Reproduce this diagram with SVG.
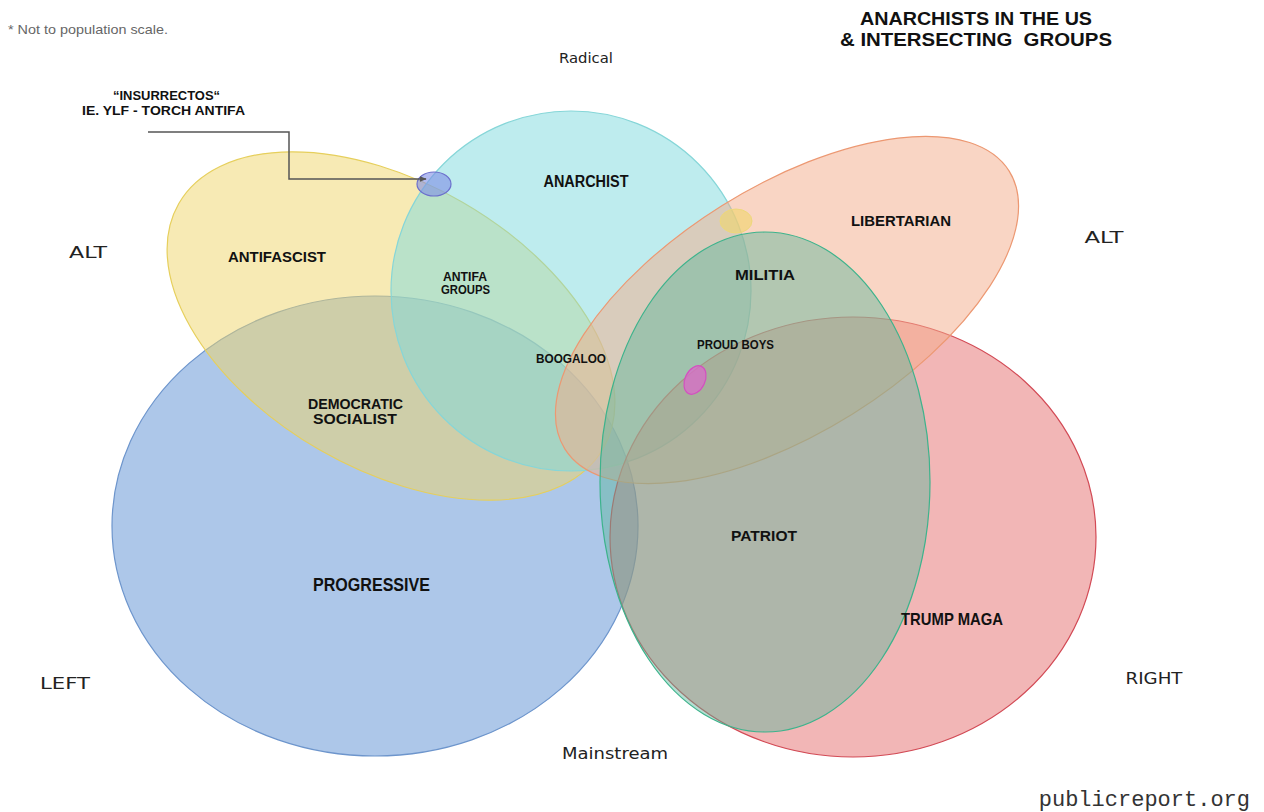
<svg xmlns="http://www.w3.org/2000/svg" width="1264" height="812" viewBox="0 0 1264 812">
<defs>
<style>
.set{stroke-width:1.2}
.lbl{font-family:"Liberation Sans","DejaVu Sans",sans-serif;font-weight:bold;fill:#111;text-anchor:middle}
.axis{font-family:"DejaVu Sans","Liberation Sans",sans-serif;fill:#222;text-anchor:middle}
</style>
<marker id="arr" viewBox="0 0 10 10" refX="9" refY="5" markerWidth="7" markerHeight="7" orient="auto" markerUnits="userSpaceOnUse">
<path d="M0,1 L10,5 L0,9 z" fill="#555"/>
</marker>
</defs>
<rect width="1264" height="812" fill="#fff"/>
<g id="progressive"><ellipse class="set" cx="375" cy="526" rx="263" ry="230" fill="#5b8fd4" fill-opacity="0.5" stroke="#6d95cc"/></g>
<g id="antifascist"><ellipse class="set" cx="391" cy="326" rx="245" ry="143" transform="rotate(30 391 326)" fill="#f0d66a" fill-opacity="0.5" stroke="#e6cf5c"/></g>
<g id="anarchist"><circle class="set" cx="571" cy="291" r="180" fill="#7dd9dd" fill-opacity="0.5" stroke="#86d6d8"/></g>
<g id="trump-maga"><ellipse class="set" cx="853" cy="537" rx="243" ry="220" fill="#e56d6d" fill-opacity="0.5" stroke="#d24a55"/></g>
<g id="libertarian"><ellipse class="set" cx="787" cy="310" rx="262" ry="123" transform="rotate(-32 787 310)" fill="#f4ac8a" fill-opacity="0.5" stroke="#ec9872"/></g>
<g id="patriot"><ellipse class="set" cx="765" cy="482" rx="165" ry="250" fill="#5cb59b" fill-opacity="0.45" stroke="#3db38c"/></g>
<g id="insurrectos-dot"><ellipse cx="434" cy="184" rx="17" ry="12" fill="#7f8ee6" fill-opacity="0.6" stroke="#6c70cc" stroke-width="1.2"/></g>
<g id="yellow-dot"><ellipse cx="736" cy="221" rx="16" ry="12" fill="#f0d66a" fill-opacity="0.6" stroke="#eed87a" stroke-width="1"/></g>
<g id="magenta-dot"><ellipse cx="695" cy="380" rx="10" ry="15" transform="rotate(25 695 380)" fill="#d96bc9" fill-opacity="0.75" stroke="#d44fc0" stroke-width="1.2"/></g>
<g id="connectors">
<polyline points="148,132 289,132 289,179 426,179" fill="none" stroke="#555" stroke-width="1.5" marker-end="url(#arr)"/>
</g>
<g id="labels">
<text class="lbl" x="586" y="187" font-size="16" textLength="85" lengthAdjust="spacingAndGlyphs">ANARCHIST</text>
<text class="lbl" x="277" y="262" font-size="15" textLength="98" lengthAdjust="spacingAndGlyphs">ANTIFASCIST</text>
<text class="lbl" x="901" y="226" font-size="15" textLength="100" lengthAdjust="spacingAndGlyphs">LIBERTARIAN</text>
<text class="lbl" x="765" y="280" font-size="14" textLength="60" lengthAdjust="spacingAndGlyphs">MILITIA</text>
<text class="lbl" x="465" y="281" font-size="12" textLength="44" lengthAdjust="spacingAndGlyphs">ANTIFA</text>
<text class="lbl" x="465.5" y="294" font-size="12.5" textLength="49" lengthAdjust="spacingAndGlyphs">GROUPS</text>
<text class="lbl" x="571" y="363" font-size="13.5" textLength="70" lengthAdjust="spacingAndGlyphs">BOOGALOO</text>
<text class="lbl" x="735.5" y="349" font-size="12.5" textLength="77" lengthAdjust="spacingAndGlyphs">PROUD BOYS</text>
<text class="lbl" x="355.5" y="409" font-size="15" textLength="95" lengthAdjust="spacingAndGlyphs">DEMOCRATIC</text>
<text class="lbl" x="355" y="424" font-size="15" textLength="84" lengthAdjust="spacingAndGlyphs">SOCIALIST</text>
<text class="lbl" x="371.5" y="591" font-size="17.5" textLength="117" lengthAdjust="spacingAndGlyphs">PROGRESSIVE</text>
<text class="lbl" x="764" y="541" font-size="15" textLength="66" lengthAdjust="spacingAndGlyphs">PATRIOT</text>
<text class="lbl" x="952" y="625" font-size="17" textLength="102" lengthAdjust="spacingAndGlyphs">TRUMP MAGA</text>
<text class="lbl" x="166.5" y="100" font-size="12" textLength="107" lengthAdjust="spacingAndGlyphs">“INSURRECTOS“</text>
<text class="lbl" x="163.5" y="115" font-size="12.5" textLength="163" lengthAdjust="spacingAndGlyphs">IE. YLF - TORCH ANTIFA</text>
</g>
<g id="title">
<text class="lbl" x="976" y="25" font-size="18" textLength="232" lengthAdjust="spacingAndGlyphs">ANARCHISTS IN THE US</text>
<text class="lbl" x="976" y="46" font-size="19" textLength="272" lengthAdjust="spacingAndGlyphs" xml:space="preserve">&amp; INTERSECTING  GROUPS</text>
</g>
<g id="axes">
<text class="axis" x="586" y="63" font-size="13.5" textLength="54" lengthAdjust="spacingAndGlyphs">Radical</text>
<text class="axis" x="615" y="759" font-size="16" textLength="106" lengthAdjust="spacingAndGlyphs">Mainstream</text>
<text class="axis" x="88" y="258" font-size="15.5" textLength="38" lengthAdjust="spacingAndGlyphs">ALT</text>
<text class="axis" x="1104" y="243" font-size="15.5" textLength="39" lengthAdjust="spacingAndGlyphs">ALT</text>
<text class="axis" x="65" y="689" font-size="15.5" textLength="50" lengthAdjust="spacingAndGlyphs">LEFT</text>
<text class="axis" x="1154" y="684" font-size="15.5" textLength="57" lengthAdjust="spacingAndGlyphs">RIGHT</text>
</g>
<text x="8" y="34" font-family="Liberation Sans, Arial, sans-serif" font-size="13.5" fill="#666" textLength="160" lengthAdjust="spacingAndGlyphs">* Not to population scale.</text>
<text x="1250" y="806" text-anchor="end" font-family="Liberation Mono, DejaVu Sans Mono, monospace" font-size="22" fill="#333">publicreport.org</text>
</svg>
